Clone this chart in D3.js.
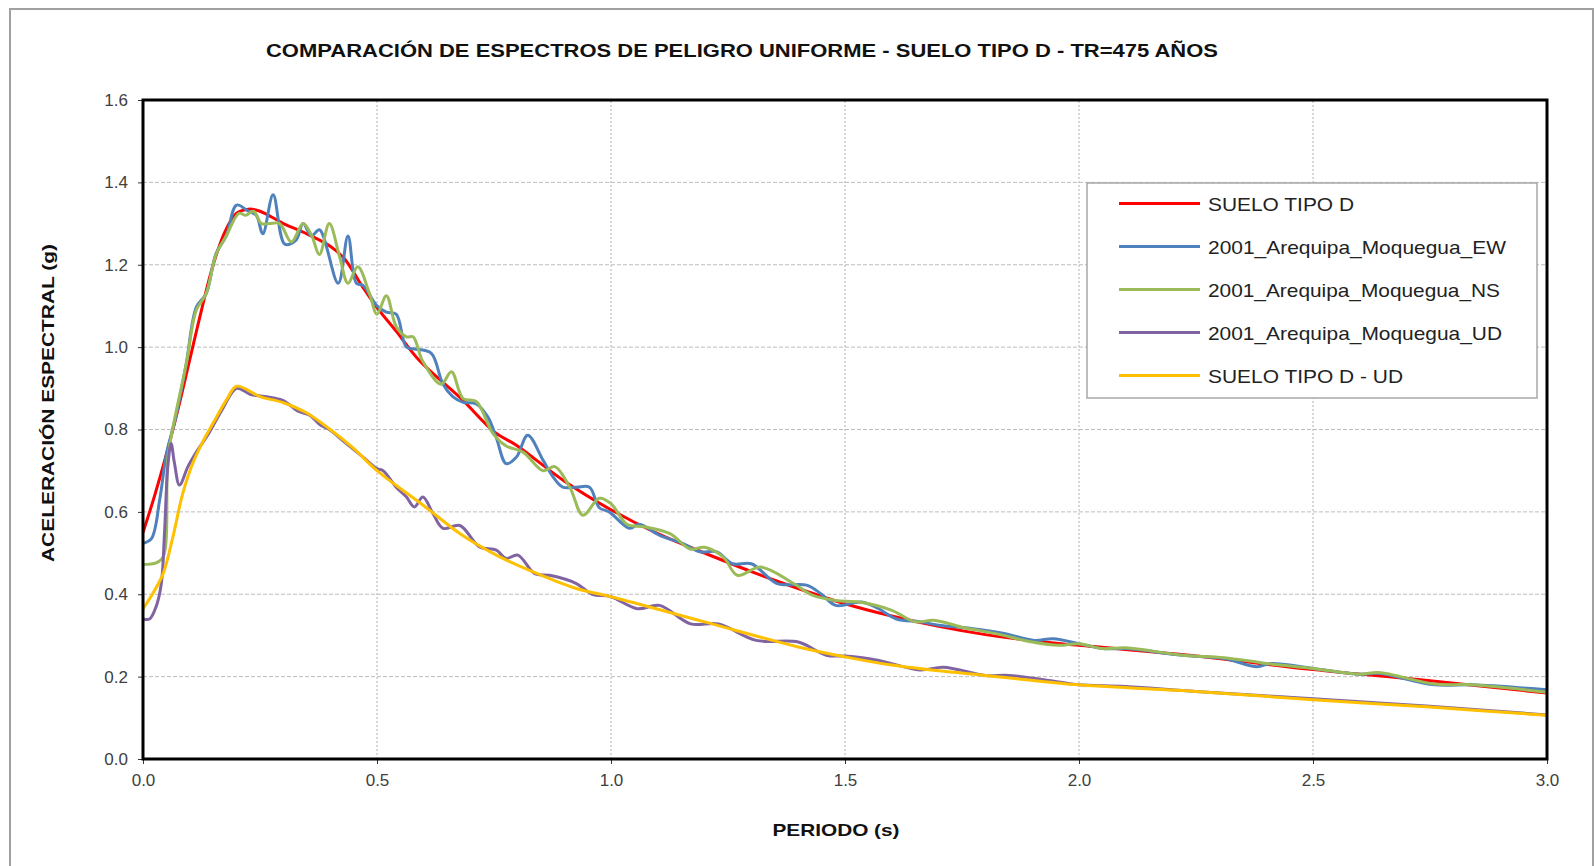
<!DOCTYPE html>
<html>
<head>
<meta charset="utf-8">
<title>Espectros de peligro uniforme</title>
<script src="https://d3js.org/d3.v7.min.js"></script>
<style>
body { margin:0; background:#fff; }
svg { display:block; }
.tick text { font-family: "Liberation Sans", Arial, sans-serif; font-size:17px; fill:#404040; }
.ttl { font-family: "Liberation Sans", Arial, sans-serif; font-weight:bold; fill:#111; }
.leg { font-family: "Liberation Sans", Arial, sans-serif; font-size:19px; fill:#222; }
</style>
</head>
<body>
<script>
// ---- data: period (s) and spectral acceleration (g)
var tSuelo  = [0,0.025,0.05,0.075,0.1,0.125,0.15,0.175,0.2,0.225,0.25,0.3,0.35,0.4,0.43,0.47,0.5,0.54,0.59,0.68,0.75,0.8,0.9,1.0,1.1,1.2,1.3,1.4,1.5,1.6,1.7,1.8,1.9,2.0,2.25,2.5,2.75,3.0];
var saSuelo = [0.55,0.64,0.74,0.85,0.97,1.09,1.2,1.28,1.325,1.335,1.33,1.30,1.275,1.245,1.215,1.145,1.096,1.04,0.968,0.875,0.795,0.76,0.675,0.605,0.547,0.50,0.455,0.414,0.377,0.347,0.322,0.302,0.287,0.276,0.25,0.217,0.19,0.16];

var tEW  = [0,0.018,0.036,0.05,0.07,0.092,0.114,0.135,0.156,0.178,0.2,0.225,0.242,0.256,0.278,0.303,0.327,0.342,0.36,0.377,0.417,0.438,0.456,0.47,0.5,0.52,0.541,0.563,0.584,0.616,0.641,0.662,0.684,0.712,0.737,0.755,0.776,0.798,0.822,0.855,0.876,0.897,0.926,0.954,0.975,0.996,1.04,1.06,1.104,1.154,1.19,1.226,1.26,1.3,1.355,1.418,1.45,1.48,1.535,1.57,1.61,1.66,1.7,1.77,1.84,1.905,1.945,2.0,2.05,2.1,2.22,2.31,2.38,2.41,2.5,2.6,2.64,2.76,2.84,3.0];
var saEW = [0.524,0.535,0.632,0.74,0.83,0.957,1.097,1.13,1.227,1.27,1.345,1.33,1.32,1.275,1.37,1.25,1.26,1.30,1.27,1.285,1.155,1.27,1.155,1.15,1.10,1.085,1.08,1.0,0.995,0.985,0.91,0.88,0.866,0.862,0.83,0.78,0.717,0.733,0.786,0.725,0.685,0.66,0.66,0.66,0.61,0.60,0.56,0.57,0.543,0.523,0.503,0.503,0.474,0.474,0.426,0.422,0.40,0.373,0.381,0.366,0.34,0.333,0.325,0.317,0.305,0.288,0.292,0.28,0.268,0.268,0.252,0.244,0.224,0.232,0.22,0.206,0.208,0.18,0.18,0.168];

var tNS  = [0,0.028,0.043,0.053,0.064,0.092,0.114,0.135,0.156,0.178,0.205,0.22,0.236,0.253,0.27,0.292,0.317,0.342,0.36,0.377,0.398,0.42,0.438,0.459,0.484,0.5,0.52,0.541,0.563,0.577,0.598,0.637,0.659,0.684,0.712,0.748,0.776,0.812,0.855,0.88,0.912,0.94,0.975,1.0,1.034,1.07,1.126,1.169,1.2,1.24,1.27,1.32,1.39,1.43,1.48,1.53,1.6,1.65,1.69,1.75,1.82,1.9,1.957,2.0,2.05,2.1,2.22,2.31,2.4,2.5,2.6,2.64,2.76,2.84,3.0];
var saNS = [0.472,0.476,0.49,0.73,0.805,0.957,1.09,1.13,1.225,1.27,1.325,1.32,1.33,1.30,1.30,1.30,1.255,1.30,1.272,1.225,1.30,1.22,1.155,1.195,1.13,1.08,1.125,1.05,1.025,1.025,0.965,0.91,0.94,0.875,0.868,0.79,0.76,0.745,0.70,0.71,0.66,0.592,0.633,0.62,0.57,0.564,0.547,0.51,0.514,0.49,0.446,0.466,0.426,0.398,0.385,0.381,0.361,0.333,0.337,0.32,0.305,0.284,0.276,0.28,0.268,0.27,0.252,0.246,0.232,0.22,0.206,0.21,0.182,0.18,0.162];

var tUD  = [0,0.014,0.028,0.039,0.046,0.053,0.06,0.067,0.078,0.096,0.114,0.14,0.17,0.2,0.23,0.26,0.3,0.33,0.356,0.38,0.398,0.43,0.47,0.5,0.513,0.541,0.563,0.58,0.598,0.62,0.641,0.677,0.719,0.755,0.776,0.801,0.837,0.869,0.926,0.96,1.0,1.056,1.104,1.17,1.23,1.31,1.4,1.46,1.5,1.57,1.66,1.71,1.8,1.85,1.957,2.0,2.1,2.25,2.5,2.75,3.0];
var saUD = [0.34,0.34,0.37,0.425,0.55,0.71,0.766,0.72,0.665,0.71,0.745,0.79,0.85,0.9,0.885,0.88,0.87,0.845,0.835,0.81,0.80,0.77,0.733,0.705,0.70,0.66,0.636,0.612,0.636,0.595,0.56,0.567,0.515,0.507,0.487,0.495,0.45,0.446,0.426,0.40,0.394,0.365,0.373,0.328,0.328,0.288,0.284,0.252,0.25,0.24,0.216,0.223,0.203,0.203,0.187,0.18,0.176,0.164,0.146,0.128,0.107];

var tSueloUD  = [0,0.02,0.043,0.064,0.085,0.107,0.13,0.157,0.18,0.2,0.25,0.3,0.35,0.4,0.45,0.5,0.6,0.68,0.755,0.826,0.926,1.0,1.2,1.4,1.5,1.6,1.7,1.8,2.0,2.25,2.5,2.75,3.0];
var saSueloUD = [0.365,0.40,0.45,0.54,0.645,0.72,0.775,0.83,0.875,0.905,0.88,0.865,0.84,0.80,0.754,0.70,0.615,0.545,0.495,0.458,0.414,0.394,0.333,0.272,0.248,0.228,0.214,0.203,0.18,0.164,0.144,0.126,0.106];

var seriesNames  = ["SUELO TIPO D","2001_Arequipa_Moquegua_EW","2001_Arequipa_Moquegua_NS","2001_Arequipa_Moquegua_UD","SUELO TIPO D - UD"];
var seriesColors = ["#ff0000","#4f81bd","#9bbb59","#8064a2","#ffc000"];
var xTicks = [0,0.5,1.0,1.5,2.0,2.5,3.0];
var yTicks = [0,0.2,0.4,0.6,0.8,1.0,1.2,1.4,1.6];

var series = [
  {t:tSuelo, sa:saSuelo},
  {t:tEW, sa:saEW},
  {t:tNS, sa:saNS},
  {t:tUD, sa:saUD},
  {t:tSueloUD, sa:saSueloUD}
];

var width = 1595, height = 866;
var m = {left:143, right:48, top:100, bottom:107};

var svg = d3.select("body").append("svg")
    .attr("width", width)
    .attr("height", height);

// outer frame of the chart
svg.append("rect")
    .attr("x", 10).attr("y", 9)
    .attr("width", 1583).attr("height", 870)
    .attr("fill", "none").attr("stroke", "#a0a0a0").attr("stroke-width", 2);

var x = d3.scaleLinear().domain([0, 3]).range([m.left, width - m.right]);
var y = d3.scaleLinear().domain([0, 1.6]).range([height - m.bottom, m.top]);

// grid
svg.append("g").selectAll("line").data(yTicks.slice(1, -1)).enter().append("line")
    .attr("x1", x(0)).attr("x2", x(3))
    .attr("y1", function(d) { return y(d); }).attr("y2", function(d) { return y(d); })
    .attr("stroke", "#bdbdbd").attr("stroke-width", 1).attr("stroke-dasharray", "4,2");
svg.append("g").selectAll("line").data(xTicks.slice(1, -1)).enter().append("line")
    .attr("y1", y(0)).attr("y2", y(1.6))
    .attr("x1", function(d) { return x(d); }).attr("x2", function(d) { return x(d); })
    .attr("stroke", "#b0b0b0").attr("stroke-width", 1).attr("stroke-dasharray", "2,2");

// axes
var xAxis = d3.axisBottom(x).tickValues(xTicks).tickFormat(d3.format(".1f")).tickSize(5).tickPadding(10);
var yAxis = d3.axisLeft(y).tickValues(yTicks).tickFormat(d3.format(".1f")).tickSize(5).tickPadding(10);

svg.append("g").attr("transform", "translate(0," + y(0) + ")").call(xAxis)
    .call(function(g) { g.select(".domain").remove(); g.selectAll(".tick line").attr("stroke", "#333"); });
svg.append("g").attr("transform", "translate(" + x(0) + ",0)").call(yAxis)
    .call(function(g) { g.select(".domain").remove(); g.selectAll(".tick line").attr("stroke", "#333"); });

// lines
svg.append("clipPath").attr("id", "clip").append("rect")
    .attr("x", x(0)).attr("y", y(1.6)).attr("width", x(3) - x(0)).attr("height", y(0) - y(1.6));

var line = d3.line()
    .x(function(d) { return x(d[0]); })
    .y(function(d) { return y(d[1]); })
    .curve(d3.curveCatmullRom.alpha(0.5));

svg.append("g").attr("clip-path", "url(#clip)")
  .selectAll("path").data(series).enter().append("path")
    .attr("fill", "none")
    .attr("stroke", function(d, i) { return seriesColors[i]; })
    .attr("stroke-width", 3)
    .attr("stroke-linejoin", "round")
    .attr("d", function(d) { return line(d.t.map(function(t, j) { return [t, d.sa[j]]; })); });

// plot frame
svg.append("rect")
    .attr("x", x(0)).attr("y", y(1.6))
    .attr("width", x(3) - x(0)).attr("height", y(0) - y(1.6))
    .attr("fill", "none").attr("stroke", "#000").attr("stroke-width", 3);

// titles
svg.append("text").attr("class", "ttl")
    .attr("x", 742).attr("y", 57).attr("text-anchor", "middle")
    .style("font-size", "18px")
    .attr("textLength", 952).attr("lengthAdjust", "spacingAndGlyphs")
    .text("COMPARACIÓN DE ESPECTROS DE PELIGRO UNIFORME - SUELO TIPO D - TR=475 AÑOS");

svg.append("text").attr("class", "ttl")
    .attr("x", 836).attr("y", 836).attr("text-anchor", "middle")
    .style("font-size", "17px")
    .attr("textLength", 127).attr("lengthAdjust", "spacingAndGlyphs")
    .text("PERIODO (s)");

svg.append("text").attr("class", "ttl")
    .attr("transform", "translate(54,403) rotate(-90)")
    .attr("text-anchor", "middle")
    .style("font-size", "17px")
    .attr("textLength", 318).attr("lengthAdjust", "spacingAndGlyphs")
    .text("ACELERACIÓN ESPECTRAL (g)");

// legend
var leg = svg.append("g").attr("transform", "translate(1087,183)");
leg.append("rect").attr("width", 450).attr("height", 215)
    .attr("fill", "#fff").attr("stroke", "#a8a8a8").attr("stroke-width", 1.5);
var legWidths = [146, 298, 292, 294, 195];
var row = leg.selectAll("g").data(seriesNames).enter().append("g")
    .attr("transform", function(d, i) { return "translate(0," + (20.5 + i * 43) + ")"; });
row.append("line").attr("x1", 32).attr("x2", 113)
    .attr("stroke", function(d, i) { return seriesColors[i]; }).attr("stroke-width", 3);
row.append("text").attr("class", "leg")
    .attr("x", 121).attr("y", 7)
    .attr("textLength", function(d, i) { return legWidths[i]; })
    .attr("lengthAdjust", "spacingAndGlyphs")
    .text(function(d) { return d; });
</script>
</body>
</html>
